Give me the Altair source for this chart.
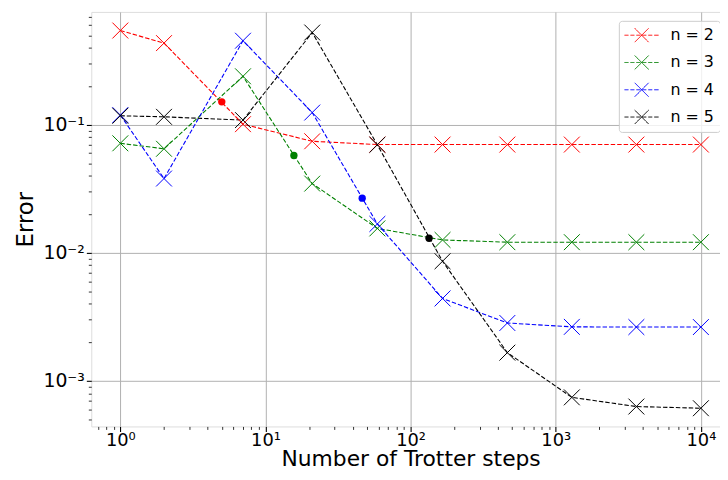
import altair as alt
import pandas as pd

# ---- data ----
steps = [1, 2, 7, 21, 59, 166, 464, 1291, 3593, 10000]
series_names = ["n = 2", "n = 3", "n = 4", "n = 5"]
err_n2 = [0.544, 0.434, 0.101, 0.0743, 0.0700, 0.0700, 0.0700, 0.0700, 0.0700, 0.0700]
err_n3 = [0.0716, 0.0649, 0.239, 0.0347, 0.0155, 0.0126, 0.0121, 0.0121, 0.0121, 0.0121]
err_n4 = [0.119, 0.038, 0.453, 0.1245, 0.0168, 0.0044, 0.00283, 0.00264, 0.00263, 0.00263]
err_n5 = [0.1175, 0.1153, 0.1087, 0.525, 0.0697, 0.00859, 0.00166, 0.000743, 0.00063, 0.000611]
dot_x = [5.0, 15.7, 46.4, 134.0]
dot_y = [0.151, 0.0575, 0.0267, 0.0130]
colors = ["#ff0000", "#008000", "#0000ff", "#000000"]

x_major = [1, 10, 100, 1000, 10000]
x_labels = ["10⁰", "10¹", "10²", "10³", "10⁴"]
y_major = [0.001, 0.01, 0.1]
y_labels = ["10⁻³", "10⁻²", "10⁻¹"]

# ---- tables ----
rows = []
for name, errs in zip(series_names, [err_n2, err_n3, err_n4, err_n5]):
    for s, e in zip(steps, errs):
        rows.append({"steps": s, "error": e, "series": name})
df = pd.DataFrame(rows)
dots = pd.DataFrame({"steps": dot_x, "error": dot_y, "series": series_names})

x_minor = [m * 10.0 ** k for k in range(-1, 5) for m in range(2, 10)]
x_minor = [v for v in x_minor if 0.63 < v < 15800]
y_minor = [m * 10.0 ** k for k in range(-4, 0) for m in range(2, 10)]
y_minor = [v for v in y_minor if 4.4e-4 < v < 0.76]

def label_expr(vals, labs):
    expr = "''"
    for v, l in reversed(list(zip(vals, labs))):
        expr = f"datum.value == {v} ? '{l}' : ({expr})"
    return expr

def major_test(vals):
    return "indexof([" + ",".join(str(v) for v in vals) + "], datum.value) >= 0"

FONT = "DejaVu Sans"
XPATH = "M-1,-1L1,1M-1,1L1,-1"
LEGEND_PATH = ("M-1.1,0L-0.6,0M-0.35,0L0.15,0M0.4,0L0.9,0M1.15,0L1.65,0"
               "M1.9,0L2.4,0M2.65,0L3.2,0"
               "M0.19,-0.875L1.94,0.875M0.19,0.875L1.94,-0.875")

W, H = 644, 418
x_scale = alt.Scale(type="log", domain=[10 ** -0.2, 10 ** 4.2], nice=False)
y_scale = alt.Scale(type="log", domain=[10 ** -3.356, 10 ** -0.119], nice=False)
color_scale = alt.Scale(domain=series_names, range=colors)

x_axis = alt.Axis(
    values=x_major + x_minor,
    labelExpr=label_expr(x_major, x_labels),
    tickSize={"condition": {"test": major_test(x_major), "value": 5}, "value": 3},
    tickWidth={"condition": {"test": major_test(x_major), "value": 1.1}, "value": 0.8},
    gridOpacity={"condition": {"test": major_test(x_major), "value": 1}, "value": 0},
    gridColor="#b0b0b0", gridWidth=1,
    tickColor="#000000", domain=False,
    labelFont=FONT, labelFontSize=18, labelColor="#000000", labelPadding=0,
    labelFlush=False, labelOverlap=False, labelBound=False,
    title="Number of Trotter steps", titleFont=FONT, titleFontSize=22,
    titleFontWeight="normal", titleColor="#000000",
    titleX=322, titleY=39, titleBaseline="alphabetic", titleAlign="center",
)
y_axis = alt.Axis(
    values=y_major + y_minor,
    labelExpr=label_expr(y_major, y_labels),
    tickSize={"condition": {"test": major_test(y_major), "value": 5}, "value": 3},
    tickWidth={"condition": {"test": major_test(y_major), "value": 1.1}, "value": 0.8},
    gridOpacity={"condition": {"test": major_test(y_major), "value": 1}, "value": 0},
    gridColor="#b0b0b0", gridWidth=1,
    tickColor="#000000", domain=False,
    labelFont=FONT, labelFontSize=19, labelColor="#000000", labelPadding=2,
    labelFlush=False, labelOverlap=False, labelBound=False,
    title="Error", titleFont=FONT, titleFontSize=23, titleFontWeight="normal",
    titleColor="#000000", titleAngle=270, titleX=-59, titleY=209,
    titleBaseline="alphabetic", titleAlign="center",
)

legend = alt.Legend(
    orient="none", legendX=532, legendY=9, title=None,
    symbolType=LEGEND_PATH, symbolSize=256, symbolStrokeWidth=1,
    symbolFillColor="transparent", symbolDash=[1, 0],
    labelFont=FONT, labelFontSize=16, labelColor="#000000", labelOffset=29,
    padding=6, rowPadding=8.5, fillColor="rgba(255,255,255,0.8)",
    strokeColor="#cccccc", cornerRadius=3,
)
color_enc = alt.Color("series:N", scale=color_scale, legend=legend)
x_enc = alt.X("steps:Q", scale=x_scale, axis=x_axis)
y_enc = alt.Y("error:Q", scale=y_scale, axis=y_axis)

base = alt.Chart(df)
lines = base.mark_line(strokeDash=[4.5, 2], strokeWidth=1.1, clip=True).encode(
    x=x_enc, y=y_enc, color=color_enc, order=alt.Order("steps:Q"),
)
points = base.mark_point(shape=XPATH, size=256, filled=False, strokeWidth=1,
                         opacity=1, clip=True).encode(
    x=x_enc, y=y_enc, color=color_enc,
)
dot_layer = alt.Chart(dots).mark_circle(size=55, opacity=1).encode(
    x=x_enc, y=y_enc, color=color_enc,
)

chart = alt.layer(lines, points, dot_layer).properties(
    width=W, height=H,
    autosize=alt.AutoSizeParams(type="none"),
    padding={"left": 84, "top": 2, "right": -10, "bottom": 44},
).configure_view(stroke="#333333", strokeWidth=1.3).configure(background="white")

chart.save("out.html", embed_options={"renderer": "svg", "actions": False})
